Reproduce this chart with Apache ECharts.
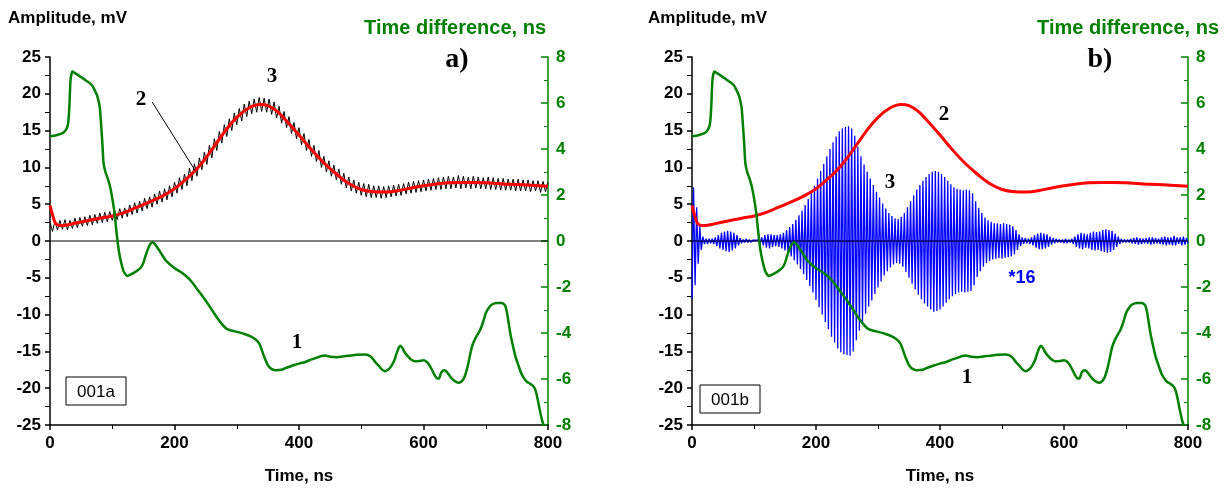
<!DOCTYPE html>
<html>
<head>
<meta charset="utf-8">
<script src="https://cdn.jsdelivr.net/npm/echarts@6/dist/echarts.min.js"></script>
<style>
  html, body { margin: 0; padding: 0; background: #fff; }
  #chart { width: 1226px; height: 488px; }
</style>
</head>
<body>
<div id="chart"></div>
<script>
// time axis (ns)
const timeMin = 0;
const timeMax = 800;
const timeStep = 200;

// curve 1: time difference, ns (right axis), same record in both panels
const timeDiff = [
  [0, 4.55], [10, 4.6], [21, 4.7], [26, 4.85], [29, 5.1], [31, 5.8], [33, 7.0], [36, 7.37],
  [40, 7.3], [46, 7.2], [54, 7.05], [62, 6.9], [68, 6.75], [72, 6.55], [76, 6.3], [80, 5.8],
  [82, 5.1], [84, 4.3], [86, 3.4], [89, 3.0], [93, 2.7], [97, 2.3], [101, 1.7], [104, 1.16],
  [106, 0.6], [108.5, 0], [111, -0.5], [114, -0.9], [118, -1.3], [124, -1.52], [130, -1.45],
  [139, -1.31], [146, -1.15], [150, -0.95], [154, -0.6], [158, -0.3], [162, -0.1], [165, -0.05],
  [169, -0.15], [174, -0.35], [180, -0.6], [186, -0.85], [192, -1.0], [200, -1.18], [210, -1.35],
  [219, -1.53], [227, -1.75], [235, -2.04], [243, -2.33], [251, -2.63], [259, -2.95], [267, -3.28],
  [275, -3.57], [283, -3.8], [290, -3.88], [300, -3.95], [311, -4.03], [320, -4.12], [327, -4.22],
  [333, -4.35], [337, -4.5], [341, -4.8], [345, -5.1], [350, -5.4], [355, -5.55], [362, -5.62],
  [372, -5.6], [381, -5.5], [391, -5.4], [400, -5.33], [410, -5.26], [420, -5.15], [429, -5.07],
  [436, -5.0], [442, -4.98], [450, -5.03], [461, -5.05], [470, -5.02], [480, -4.99], [493, -4.95],
  [506, -4.93], [512, -4.97], [518, -5.1], [523, -5.28], [528, -5.42], [533, -5.58], [538, -5.66],
  [543, -5.6], [548, -5.45], [553, -5.2], [556, -4.95], [560, -4.65], [563, -4.55], [566, -4.65],
  [570, -4.85], [575, -5.02], [580, -5.15], [586, -5.23], [593, -5.22], [600, -5.18], [605, -5.25],
  [609, -5.38], [614, -5.62], [618, -5.84], [622, -5.98], [625, -5.98], [628, -5.75], [631, -5.64],
  [634, -5.62], [637, -5.68], [641, -5.82], [646, -5.99], [651, -6.1], [657, -6.16], [662, -6.08],
  [666, -5.9], [670, -5.55], [673, -5.2], [676, -4.8], [679, -4.5], [684, -4.2], [691, -3.87],
  [696, -3.5], [700, -3.14], [705, -2.9], [710, -2.76], [718, -2.7], [726, -2.7], [731, -2.8],
  [734, -3.1], [737, -3.6], [740, -4.1], [744, -4.6], [748, -5.05], [753, -5.45], [757, -5.75],
  [761, -5.95], [766, -6.12], [771, -6.2], [775, -6.28], [779, -6.42], [782, -6.7], [785, -7.1],
  [788, -7.5], [791, -7.85], [793, -8.0]
];

// smoothed amplitude, mV (red)
const smoothAmp = [
  [0, 4.8], [3, 3.9], [6, 3.0], [9, 2.4], [12, 2.2], [18, 2.1], [25, 2.15], [40, 2.4], [60, 2.75],
  [80, 3.1], [100, 3.4], [120, 3.9], [140, 4.6], [160, 5.3], [180, 6.1], [200, 7.1], [220, 8.5],
  [240, 10.2], [260, 12.4], [280, 14.8], [300, 16.8], [320, 18.1], [337, 18.55], [350, 18.4],
  [365, 17.6], [380, 16.3], [400, 14.4], [420, 12.4], [440, 10.6], [460, 9.1], [480, 7.8],
  [500, 7.0], [520, 6.7], [540, 6.65], [560, 6.85], [580, 7.2], [600, 7.5], [620, 7.75],
  [640, 7.9], [660, 7.95], [680, 7.95], [700, 7.9], [720, 7.8], [740, 7.7], [760, 7.65],
  [780, 7.55], [800, 7.45]
];

// raw amplitude record, mV (black), sampled every rawStep ns
const rawStep = 4;
const rawAmp = [
  2.6, 1.3, 2.7, 1.5, 2.8, 1.6, 2.9, 1.5, 2.8, 1.7, 3.1, 1.8, 3.2, 2.0, 3.3, 2.1, 3.5, 2.2, 3.6, 2.4, 3.8, 2.5, 3.9, 2.6, 4.0,
  2.8, 4.1, 2.9, 4.4, 3.1, 4.5, 3.3, 4.9, 3.6, 5.2, 3.8, 5.4, 4.1, 5.8, 4.4, 6.0, 4.6, 6.4, 5.0, 6.8, 5.3, 7.1, 5.6, 7.5, 6.0,
  8.0, 6.5, 8.6, 7.0, 9.1, 7.5, 9.9, 8.2, 10.5, 8.8, 11.3, 9.7, 12.1, 10.4, 13.0, 11.3, 13.9, 12.3, 14.9, 13.3, 15.8, 14.2, 16.6, 15.0, 17.4,
  15.8, 18.0, 16.3, 18.6, 16.9, 19.0, 17.3, 19.3, 17.5, 19.5, 17.6, 19.4, 17.5, 19.3, 17.2, 18.9, 16.7, 18.3, 16.0, 17.6, 15.4, 16.9, 14.6, 16.1, 13.9,
  15.4, 13.1, 14.6, 12.3, 13.8, 11.5, 13.0, 10.8, 12.3, 10.0, 11.5, 9.4, 10.9, 8.8, 10.3, 8.3, 9.8, 7.7, 9.2, 7.2, 8.7, 6.8, 8.3, 6.5, 8.0,
  6.2, 7.8, 6.0, 7.7, 5.9, 7.5, 5.9, 7.5, 5.8, 7.4, 5.9, 7.5, 6.0, 7.6, 6.1, 7.7, 6.2, 7.8, 6.4, 8.0, 6.5, 8.1, 6.6, 8.2, 6.7,
  8.3, 6.8, 8.4, 6.9, 8.5, 7.0, 8.6, 7.0, 8.7, 7.1, 8.8, 7.1, 8.7, 7.2, 8.9, 7.1, 8.8, 7.2, 8.7, 7.1, 8.8, 7.2, 8.7, 7.1, 8.6,
  7.1, 8.7, 7.0, 8.6, 7.0, 8.5, 6.9, 8.5, 6.9, 8.4, 6.9, 8.4, 6.8, 8.4, 6.8, 8.3, 6.8, 8.3, 6.7, 8.2, 6.8, 8.2, 6.6, 8.1, 6.7,
  8.0
];

// oscillating component x16, mV (blue), sampled every oscStep ns
const oscStep = 2.5;
const oscAmp = [
  -7.8, 7.3, -6.0, 4.6, -3.1, 2.0, -1.2, 0.6, -0.4, 0.3, -0.4, 0.3, -0.3, 0.3, -0.4, 0.5, -0.7, 0.8, -1.0, 1.1,
  -1.2, 1.3, -1.4, 1.4, -1.5, 1.3, -1.3, 1.1, -1.0, 0.8, -0.6, 0.4, -0.3, 0.2, -0.2, 0.3, -0.2, 0.2, -0.2, 0.1,
  -0.1, 0.1, -0.1, 0.2, -0.3, 0.5, -0.6, 0.8, -0.9, 0.9, -1.0, 0.9, -0.8, 0.8, -0.7, 0.8, -0.8, 0.9, -1.0, 1.1,
  -1.3, 1.5, -1.7, 1.9, -2.1, 2.3, -2.6, 2.9, -3.2, 3.5, -3.8, 4.1, -4.5, 4.9, -5.3, 5.7, -6.1, 6.6, -7.0, 7.5,
  -8.0, 8.5, -9.0, 9.5, -10.0, 10.5, -11.0, 11.5, -12.0, 12.5, -13.0, 13.4, -13.8, 14.2, -14.6, 14.9, -15.1, 15.3, -15.4, 15.5,
  -15.5, 15.6, -15.6, 15.3, -15.0, 14.3, -13.5, 12.8, -12.2, 11.5, -11.0, 10.4, -9.9, 9.4, -8.9, 8.5, -8.1, 7.6, -7.2, 6.7,
  -6.3, 5.9, -5.5, 5.1, -4.7, 4.4, -4.1, 3.8, -3.6, 3.4, -3.2, 3.1, -3.0, 3.0, -3.1, 3.3, -3.5, 3.8, -4.2, 4.6,
  -5.0, 5.4, -5.8, 6.2, -6.6, 7.0, -7.3, 7.6, -7.9, 8.2, -8.5, 8.7, -8.9, 9.1, -9.3, 9.4, -9.6, 9.5, -9.5, 9.4,
  -9.3, 9.1, -8.9, 8.7, -8.4, 8.2, -7.9, 7.7, -7.5, 7.3, -7.2, 7.1, -7.0, 7.0, -6.9, 6.9, -7.0, 7.0, -6.9, 6.9,
  -6.8, 6.5, -6.0, 5.4, -4.9, 4.5, -4.1, 3.8, -3.5, 3.2, -3.0, 2.8, -2.7, 2.6, -2.5, 2.4, -2.4, 2.4, -2.3, 2.3,
  -2.4, 2.4, -2.3, 2.3, -2.2, 2.2, -2.1, 2.0, -1.8, 1.5, -1.2, 0.9, -0.7, 0.5, -0.4, 0.4, -0.3, 0.3, -0.4, 0.5,
  -0.6, 0.8, -0.9, 1.0, -1.1, 1.1, -1.1, 1.0, -1.0, 0.9, -0.8, 0.6, -0.5, 0.4, -0.3, 0.3, -0.2, 0.2, -0.2, 0.2,
  -0.3, 0.3, -0.3, 0.2, -0.2, 0.3, -0.4, 0.6, -0.8, 0.9, -1.0, 1.1, -1.1, 1.0, -0.9, 0.9, -1.0, 1.1, -1.2, 1.3,
  -1.3, 1.2, -1.2, 1.3, -1.4, 1.5, -1.5, 1.6, -1.6, 1.5, -1.5, 1.4, -1.2, 1.0, -0.8, 0.6, -0.4, 0.3, -0.2, 0.2,
  -0.2, 0.2, -0.2, 0.3, -0.3, 0.4, -0.4, 0.5, -0.5, 0.4, -0.4, 0.3, -0.3, 0.4, -0.4, 0.5, -0.5, 0.5, -0.4, 0.4,
  -0.3, 0.3, -0.4, 0.5, -0.5, 0.6, -0.6, 0.5, -0.5, 0.5, -0.6, 0.7, -0.6, 0.5, -0.4, 0.5, -0.6, 0.6, -0.5, 0.4,
  -0.3
];

const zeroLine = [[0, 0], [800, 0]];
const leaderLine = [[164, 18.9], [233, 9.6]];

const SANS = "'Liberation Sans', Arial, sans-serif";
const SERIF = "'Liberation Serif', 'Times New Roman', serif";
const GREEN = "#008000";

const chart = echarts.init(document.getElementById("chart"), null, { renderer: "canvas" });

const rawData = rawAmp.map((v, i) => [i * rawStep, v]);
const oscData = oscAmp.map((v, i) => [i * oscStep, v]);

const tickFont = { fontWeight: "bold", fontSize: 17, fontFamily: SANS };

function xAxisFor(gridIndex) {
  return {
    type: "value",
    gridIndex,
    min: timeMin,
    max: timeMax,
    interval: timeStep,
    name: "Time, ns",
    nameLocation: "middle",
    nameGap: 43,
    nameTextStyle: { color: "#000", fontWeight: "bold", fontSize: 17, fontFamily: SANS },
    axisLine: { onZero: false, lineStyle: { color: "#000", width: 1.5 } },
    axisTick: { length: 5, lineStyle: { color: "#000", width: 1.5 } },
    minorTick: { show: true, splitNumber: 2, length: 4, lineStyle: { color: "#000", width: 1 } },
    axisLabel: Object.assign({ color: "#000", margin: 10 }, tickFont),
    splitLine: { show: false },
  };
}

function ampAxisFor(gridIndex) {
  return {
    type: "value",
    gridIndex,
    position: "left",
    min: -25,
    max: 25,
    interval: 5,
    axisLine: { onZero: false, lineStyle: { color: "#000", width: 1.5 } },
    axisTick: { length: 5, lineStyle: { color: "#000", width: 1.5 } },
    minorTick: { show: true, splitNumber: 2, length: 5, lineStyle: { color: "#000", width: 1 } },
    axisLabel: Object.assign({ color: "#000", margin: 9 }, tickFont),
    splitLine: { show: false },
  };
}

function diffAxisFor(gridIndex) {
  return {
    type: "value",
    gridIndex,
    position: "right",
    min: -8,
    max: 8,
    interval: 2,
    axisLine: { onZero: false, lineStyle: { color: GREEN, width: 1.5 } },
    axisTick: { inside: true, length: 7, lineStyle: { color: GREEN, width: 1.5 } },
    minorTick: { show: true, splitNumber: 2, length: 4, lineStyle: { color: GREEN, width: 1 } },
    axisLabel: Object.assign({ color: GREEN, margin: 8 }, tickFont),
    splitLine: { show: false },
  };
}

function lineSeries(xi, yi, data, color, width, z, extra) {
  return Object.assign({
    type: "line",
    xAxisIndex: xi,
    yAxisIndex: yi,
    data,
    showSymbol: false,
    symbol: "none",
    silent: true,
    z,
    lineStyle: { color, width },
    itemStyle: { color },
  }, extra || {});
}

function text(x, y, str, font, fill, align) {
  return {
    type: "text",
    silent: true,
    z: 100,
    style: {
      x, y, text: str, font, fill,
      textAlign: align || "center", align: align || "center",
      textVerticalAlign: "middle", verticalAlign: "middle",
    },
  };
}

function box(x, y, w, h, str) {
  return [
    { type: "rect", silent: true, z: 90, shape: { x, y, width: w, height: h },
      style: { fill: "#fff", stroke: "#000", lineWidth: 1 } },
    text(x + w / 2, y + h / 2 + 1, str, "17px " + SANS, "#000"),
  ];
}

const ampTitleFont = "bold 17px " + SANS;
const diffTitleFont = "bold 20px " + SANS;
const numFont = "bold 21px " + SERIF;

chart.setOption({
  animation: false,
  backgroundColor: "#fff",
  grid: [
    { left: 50, width: 498, top: 57, height: 368, containLabel: false, outerBoundsMode: "none" },
    { left: 692, width: 496, top: 57, height: 368, containLabel: false, outerBoundsMode: "none" },
  ],
  xAxis: [xAxisFor(0), xAxisFor(1)],
  yAxis: [ampAxisFor(0), diffAxisFor(0), ampAxisFor(1), diffAxisFor(1)],
  series: [
    // panel a
    lineSeries(0, 0, zeroLine, "#000", 1, 1),
    lineSeries(0, 0, rawData, "#000", 1, 2, {
      markLine: {
        silent: true,
        symbol: ["none", "none"],
        label: { show: false },
        lineStyle: { color: "#000", width: 1, type: "solid" },
        data: [[{ coord: leaderLine[0] }, { coord: leaderLine[1] }]],
      },
    }),
    lineSeries(0, 0, smoothAmp, "#ff0000", 3, 3, { smooth: 0.4 }),
    lineSeries(0, 1, timeDiff, GREEN, 2.5, 4, { smooth: 0.2 }),
    // panel b
    lineSeries(1, 2, oscData, "#0000ff", 1.3, 1),
    lineSeries(1, 2, zeroLine, "#000066", 1.5, 2),
    lineSeries(1, 2, smoothAmp, "#ff0000", 3, 3, { smooth: 0.4 }),
    lineSeries(1, 3, timeDiff, GREEN, 2.5, 4, { smooth: 0.2 }),
  ],
  graphic: [
    text(8, 18, "Amplitude, mV", ampTitleFont, "#000", "left"),
    text(546, 28, "Time difference, ns", diffTitleFont, GREEN, "right"),
    text(648, 18, "Amplitude, mV", ampTitleFont, "#000", "left"),
    text(1219, 28, "Time difference, ns", diffTitleFont, GREEN, "right"),
    text(457, 60, "a)", "bold 28px " + SERIF, "#000"),
    text(1100, 60, "b)", "bold 28px " + SERIF, "#000"),
    text(272, 77, "3", numFont, "#000"),
    text(141, 100, "2", numFont, "#000"),
    text(297, 343, "1", numFont, "#000"),
    text(944, 115, "2", numFont, "#000"),
    text(890, 183, "3", numFont, "#000"),
    text(967, 378, "1", numFont, "#000"),
    text(1022, 278, "*16", "bold 18px " + SANS, "#0000ff"),
    ...box(66, 377, 60, 28, "001a"),
    ...box(700, 385, 60, 28, "001b"),
  ],
});
</script>
</body>
</html>
